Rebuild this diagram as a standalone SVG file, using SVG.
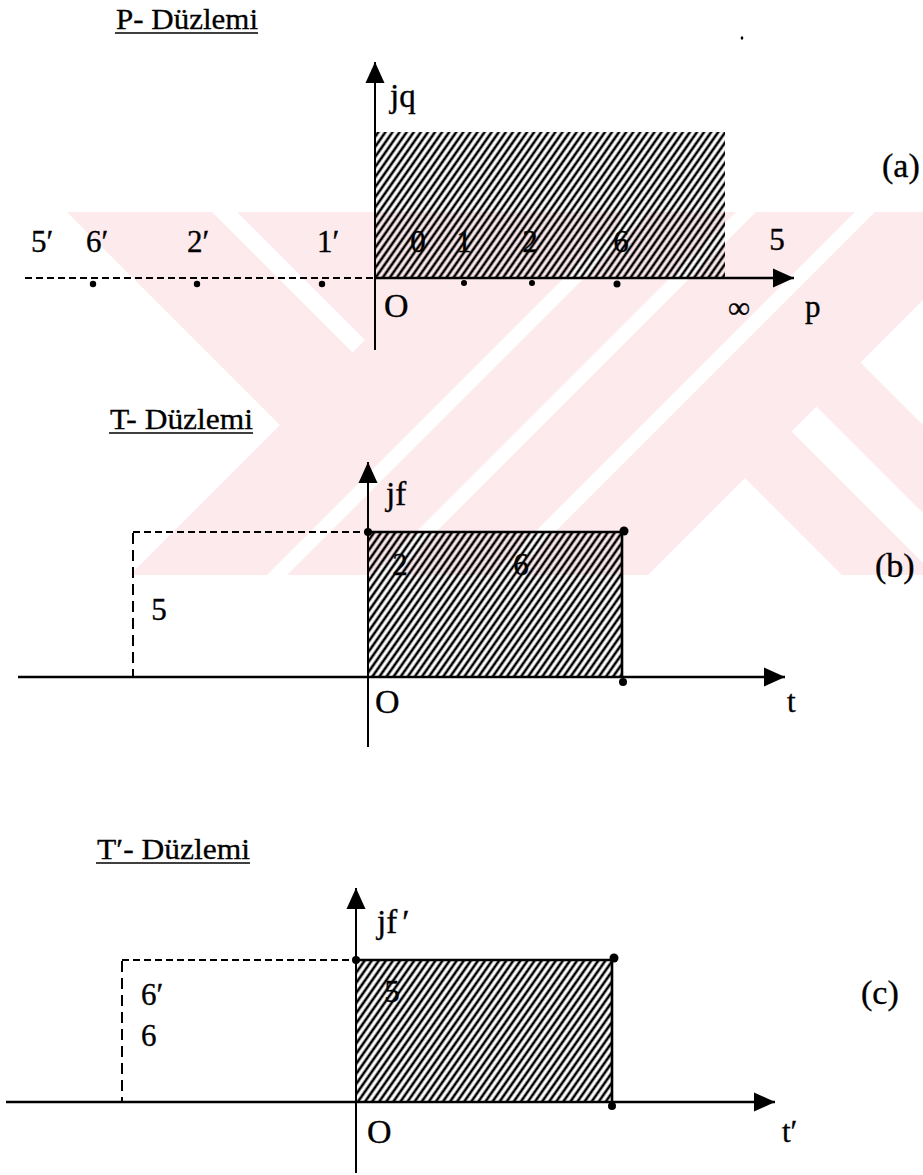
<svg xmlns="http://www.w3.org/2000/svg" width="923" height="1175" viewBox="0 0 923 1175">
<style>
  .lbl{font-family:"Liberation Serif","Times New Roman",serif;font-size:31px;fill:#000;stroke:#000;stroke-width:0.35}
  .big{font-size:34px}
  .par{font-size:34px}
  .ttl{font-family:"Liberation Serif","Times New Roman",serif;font-size:29px;fill:#000;stroke:#000;stroke-width:0.3}
  .ax{stroke:#000;stroke-width:2;fill:none}
  .axh{stroke:#000;stroke-width:2.5;fill:none}
  .dash{stroke:#000;stroke-width:2.2;stroke-dasharray:7 4;fill:none}
  .dashv{stroke:#000;stroke-width:2;stroke-dasharray:11 6;fill:none}
  .edge{stroke:#000;stroke-width:2.6;fill:none}
  .ul{stroke:#000;stroke-width:1.6}
  .wm{fill:#fdeaed}
  .hatch{fill:url(#hatch)}
</style>
<defs>
  <pattern id="hatch" patternUnits="userSpaceOnUse" width="5.8" height="10" patternTransform="rotate(35)">
    <rect x="1.6" y="0" width="2.6" height="10" fill="#000"/>
  </pattern>
  <marker id="arr" markerUnits="userSpaceOnUse" markerWidth="22" markerHeight="20" refX="21" refY="10" orient="auto">
    <path d="M0,0.5 L21,10 L0,19.5 Z" fill="#000"/>
  </marker>
</defs>
<rect width="923" height="1175" fill="#fff"/>

<g id="watermark">
  <polygon class="wm" points="67,212 212,212 352.5,352.5 280,425"/>
  <polygon class="wm" points="237,212 493,212 365,340"/>
  <polygon class="wm" points="493,212 630,212 267,575 130,575"/>
  <polygon class="wm" points="650,212 736,212 373,575 287,575"/>
  <polygon class="wm" points="756,212 855,212 492,575 393,575"/>
  <polygon class="wm" points="875,212 1011,212 648,575 512,575"/>
  <polygon class="wm" points="745,478 791.5,431.5 935,575 842,575"/>
  <polygon class="wm" points="816.5,406.5 860.5,362.5 1073,575 985,575"/>
</g>

<g id="p-plane">
  <g id="p-title">
    <text class="ttl" x="116" y="29" textLength="142" lengthAdjust="spacingAndGlyphs">P- Düzlemi</text>
    <line class="ul" x1="115" y1="33" x2="258" y2="33"/>
  </g>
  <rect id="p-region" class="hatch" x="376" y="132" width="349" height="146"/>
  <g id="p-axes">
    <line class="dash" x1="25" y1="278" x2="375" y2="278"/>
    <line class="axh" x1="375" y1="278" x2="794" y2="278" marker-end="url(#arr)"/>
    <line class="ax" x1="375" y1="350" x2="375" y2="62" marker-end="url(#arr)"/>
  </g>
  <g id="p-points">
    <circle cx="93" cy="284" r="3.2"/>
    <circle cx="197" cy="284" r="3.2"/>
    <circle cx="322" cy="284" r="3.2"/>
    <circle cx="464" cy="283" r="3"/>
    <circle cx="532" cy="283" r="3"/>
    <circle cx="617" cy="284" r="3.5"/>
  </g>
  <g id="p-labels">
    <text class="lbl" x="390" y="107" style="font-size:33px">jq</text>
    <text class="lbl" x="31" y="252">5′</text>
    <text class="lbl" x="86" y="252">6′</text>
    <text class="lbl" x="187" y="252">2′</text>
    <text class="lbl" x="317" y="252">1′</text>
    <text class="lbl" x="418" y="252" text-anchor="middle">0</text>
    <text class="lbl" x="464" y="252" text-anchor="middle">1</text>
    <text class="lbl" x="530" y="252" text-anchor="middle">2</text>
    <text class="lbl" x="621" y="252" text-anchor="middle">6</text>
    <text class="lbl" x="777" y="250" text-anchor="middle">5</text>
    <text class="lbl big" x="384" y="317">O</text>
    <text class="lbl" x="739" y="318" text-anchor="middle">∞</text>
    <text class="lbl" x="805" y="317">p</text>
    <text class="lbl par" x="882" y="177">(a)</text>
  </g>
  <ellipse cx="742" cy="38" rx="1.3" ry="1.8" fill="#000"/>
</g>

<g id="t-plane">
  <g id="t-title">
    <text class="ttl" x="110" y="429" textLength="143" lengthAdjust="spacingAndGlyphs">T- Düzlemi</text>
    <line class="ul" x1="109" y1="433" x2="253" y2="433"/>
  </g>
  <rect id="t-region" class="hatch" x="369" y="532" width="254" height="145"/>
  <g id="t-edges">
    <line class="edge" x1="368" y1="532" x2="623" y2="532"/>
    <line class="edge" x1="622" y1="532" x2="622" y2="677"/>
    <line class="dash" x1="133" y1="532" x2="368" y2="532"/>
    <line class="dashv" x1="133" y1="533" x2="133" y2="677"/>
  </g>
  <g id="t-axes">
    <line class="axh" x1="18" y1="677" x2="785" y2="677" marker-end="url(#arr)"/>
    <line class="ax" x1="368" y1="747" x2="368" y2="462" marker-end="url(#arr)"/>
  </g>
  <g id="t-points">
    <circle cx="368" cy="532" r="4"/>
    <circle cx="624" cy="531" r="4.5"/>
    <circle cx="623" cy="682" r="4"/>
  </g>
  <g id="t-labels">
    <text class="lbl" x="386" y="505" style="font-size:33px">jf</text>
    <text class="lbl" x="400" y="575" text-anchor="middle">2</text>
    <text class="lbl" x="521" y="575" text-anchor="middle">6</text>
    <text class="lbl" x="159" y="620" text-anchor="middle">5</text>
    <text class="lbl big" x="375" y="713">O</text>
    <text class="lbl" x="787" y="712">t</text>
    <text class="lbl par" x="875" y="577">(b)</text>
  </g>
</g>

<g id="tp-plane">
  <g id="tp-title">
    <text class="ttl" x="97" y="859" textLength="153" lengthAdjust="spacingAndGlyphs">T′- Düzlemi</text>
    <line class="ul" x1="96" y1="863" x2="250" y2="863"/>
  </g>
  <rect id="tp-region" class="hatch" x="357" y="960" width="255" height="142"/>
  <g id="tp-edges">
    <line class="edge" x1="356" y1="960" x2="613" y2="960"/>
    <line class="edge" x1="612" y1="960" x2="612" y2="1102"/>
    <line class="dash" x1="122" y1="960" x2="356" y2="960"/>
    <line class="dashv" x1="122" y1="961" x2="122" y2="1102"/>
  </g>
  <g id="tp-axes">
    <line class="axh" x1="6" y1="1102" x2="775" y2="1102" marker-end="url(#arr)"/>
    <line class="ax" x1="356" y1="1173" x2="356" y2="888" marker-end="url(#arr)"/>
  </g>
  <g id="tp-points">
    <circle cx="356" cy="960" r="4"/>
    <circle cx="614" cy="958" r="4.5"/>
    <circle cx="612" cy="1106" r="4"/>
  </g>
  <g id="tp-labels">
    <text class="lbl" x="377" y="933" style="font-size:33px">jf<tspan dx="5">′</tspan></text>
    <text class="lbl" x="392" y="1002" text-anchor="middle">5</text>
    <text class="lbl" x="141" y="1005">6′</text>
    <text class="lbl" x="141" y="1046">6</text>
    <text class="lbl big" x="367" y="1143">O</text>
    <text class="lbl" x="782" y="1142">t′</text>
    <text class="lbl par" x="861" y="1004">(c)</text>
  </g>
</g>
</svg>
